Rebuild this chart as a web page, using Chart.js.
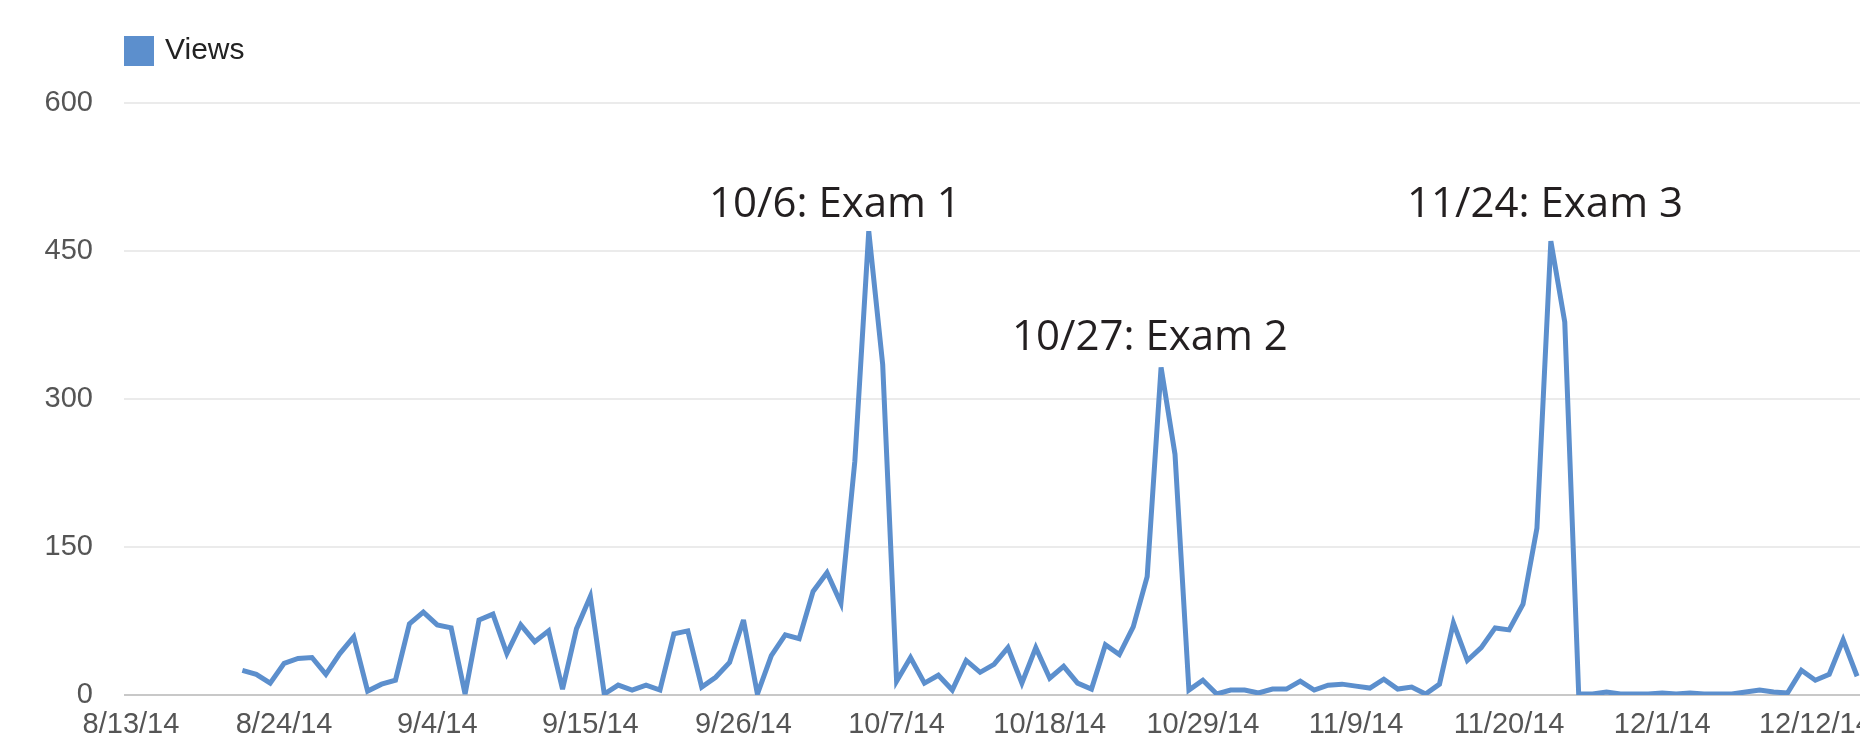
<!DOCTYPE html>
<html>
<head>
<meta charset="utf-8">
<script src="https://cdn.jsdelivr.net/npm/chart.js@4/dist/chart.umd.min.js"></script>
<style>
  html, body { margin: 0; padding: 0; background: #ffffff; overflow: hidden; }
  #wrap { position: absolute; left: 0; top: 0; width: 1960px; height: 747px; }
</style>
</head>
<body>
<div id="wrap"><canvas id="c" width="1960" height="747"></canvas></div>
<script>
// ---- data ----
const seriesName = 'Views';
const dates = [
  '8/21','8/22','8/23','8/24','8/25','8/26','8/27','8/28','8/29','8/30','8/31',
  '9/1','9/2','9/3','9/4','9/5','9/6','9/7','9/8','9/9','9/10','9/11','9/12','9/13','9/14','9/15',
  '9/16','9/17','9/18','9/19','9/20','9/21','9/22','9/23','9/24','9/25','9/26','9/27','9/28','9/29','9/30',
  '10/1','10/2','10/3','10/4','10/5','10/6','10/7','10/8','10/9','10/10','10/11','10/12','10/13','10/14','10/15',
  '10/16','10/17','10/18','10/19','10/20','10/21','10/22','10/23','10/24','10/25','10/26','10/27','10/28','10/29','10/30','10/31',
  '11/1','11/2','11/3','11/4','11/5','11/6','11/7','11/8','11/9','11/10','11/11','11/12','11/13','11/14','11/15',
  '11/16','11/17','11/18','11/19','11/20','11/21','11/22','11/23','11/24','11/25','11/26','11/27','11/28','11/29','11/30',
  '12/1','12/2','12/3','12/4','12/5','12/6','12/7','12/8','12/9','12/10','12/11','12/12','12/13','12/14','12/15'
];
const views = [
  25, 21, 12, 32, 37, 38, 21, 42, 59, 4, 11,
  15, 72, 84, 71, 68, 1, 76, 82, 42, 71, 54, 65, 6, 67, 100,
  1, 10, 5, 10, 5, 62, 65, 8, 18, 33, 76, 1, 40, 61, 57,
  105, 124, 93, 237, 470, 335, 14, 38, 12, 20, 5, 35, 23, 31, 48,
  12, 48, 17, 29, 12, 6, 51, 41, 69, 120, 332, 244, 5, 15, 1, 5,
  5, 2, 6, 6, 14, 5, 10, 11, 9, 7, 16, 6, 8, 1, 11,
  73, 35, 48, 68, 66, 92, 169, 460, 378, 1, 1, 3, 1, 1, 1,
  2, 1, 2, 1, 1, 1, 3, 5, 3, 2, 25, 15, 21, 56, 19
];
const xTickLabels = ['8/13/14','8/24/14','9/4/14','9/15/14','9/26/14','10/7/14','10/18/14','10/29/14','11/9/14','11/20/14','12/1/14','12/12/14'];
const yTicks = [0, 150, 300, 450, 600];
const examTexts = ['10/6: Exam 1', '10/27: Exam 2', '11/24: Exam 3'];

// ---- helpers ----
const YEAR = 2014;
const origin = new Date(YEAR, 7, 13);
function dayOf(label) {
  const p = label.split('/').map(Number);
  const d = new Date(YEAR, p[0] - 1, p[1]);
  return Math.round((d - origin) / 86400000);
}
const points = dates.map((d, i) => ({ x: dayOf(d), y: views[i] }));
const tickDays = xTickLabels.map(dayOf);

const BLUE = '#5c8fcd';
const TICK_FONT = { family: "'Liberation Sans', Arial, Helvetica, sans-serif", size: 29 };

// legend: extra gap below it, and horizontal placement over the plot's left edge
const legendPlace = {
  id: 'legendPlace',
  beforeInit(chart) {
    const lg = chart.legend;
    if (lg && !lg._gapPatched) {
      const orig = lg.fit;
      lg.fit = function () { orig.call(this); this.height += 27; };
      lg._gapPatched = true;
    }
  },
  afterLayout(chart) {
    const lg = chart.legend;
    if (lg) { lg.left += 92; }
  },
  beforeDatasetsDraw(chart) {
    chart.ctx.miterLimit = 4;
  }
};

const examLabels = {
  id: 'examLabels',
  afterDatasetsDraw(chart, args, opts) {
    const { ctx } = chart;
    const xs = chart.scales.x, ys = chart.scales.y;
    ctx.save();
    ctx.font = opts.font;
    ctx.fillStyle = opts.color;
    ctx.textAlign = 'center';
    ctx.textBaseline = 'alphabetic';
    opts.items.forEach(it => {
      ctx.fillText(it.text, xs.getPixelForValue(it.x), ys.getPixelForValue(it.y));
    });
    ctx.restore();
  }
};

function build() {
  new Chart(document.getElementById('c'), {
    type: 'line',
    data: {
      datasets: [{
        label: seriesName,
        data: points,
        borderColor: BLUE,
        backgroundColor: BLUE,
        borderWidth: 5,
        pointRadius: 0,
        pointHoverRadius: 0,
        tension: 0,
        fill: false,
        borderJoinStyle: 'miter'
      }]
    },
    options: {
      responsive: false,
      animation: false,
      devicePixelRatio: 1,
      layout: { padding: { left: 0, right: 10, top: 0, bottom: 0 } },
      plugins: {
        tooltip: { enabled: false },
        legend: {
          display: true,
          position: 'top',
          align: 'start',
          labels: {
            padding: 36,
            boxWidth: 22,
            boxHeight: 22,
            color: '#222222',
            font: { family: "'Liberation Sans', Arial, Helvetica, sans-serif", size: 30 },
            generateLabels(chart) {
              const items = Chart.defaults.plugins.legend.labels.generateLabels(chart);
              return items.map(it => Object.assign(it, { lineWidth: 8, strokeStyle: BLUE, fillStyle: BLUE, lineJoin: 'miter' }));
            }
          }
        },
        examLabels: {
          font: "42px 'Open Sans', 'Noto Sans', sans-serif",
          color: '#231f20',
          items: [
            { text: examTexts[0], x: 50.57, y: 484.5 },
            { text: examTexts[1], x: 73.2, y: 349.7 },
            { text: examTexts[2], x: 101.58, y: 484.5 }
          ]
        }
      },
      scales: {
        x: {
          type: 'linear',
          min: -0.503,
          max: 130.675,
          grid: { display: false, drawTicks: false },
          border: { display: false },
          afterBuildTicks(scale) { scale.ticks = tickDays.map(v => ({ value: v })); },
          afterFit(scale) { scale.height = 52; },
          ticks: {
            autoSkip: false,
            maxRotation: 0,
            minRotation: 0,
            padding: 13,
            color: '#555555',
            font: TICK_FONT,
            callback(value) {
              const i = tickDays.indexOf(value);
              return i >= 0 ? xTickLabels[i] : '';
            }
          }
        },
        y: {
          type: 'linear',
          min: yTicks[0],
          max: yTicks[yTicks.length - 1],
          afterBuildTicks(scale) { scale.ticks = yTicks.map(v => ({ value: v })); },
          afterFit(scale) { scale.width = 124; },
          border: { display: false },
          grid: {
            drawTicks: false,
            lineWidth: 2,
            color(ctx) { return ctx.tick && ctx.tick.value === 0 ? '#c8c8c8' : '#ebebeb'; }
          },
          ticks: {
            padding: 31,
            color: '#555555',
            font: TICK_FONT
          }
        }
      }
    },
    plugins: [legendPlace, examLabels]
  });
}

const fontLoads = document.fonts ? Promise.all([
  document.fonts.load("42px 'Open Sans'"),
  document.fonts.load("29px 'Liberation Sans'")
]) : Promise.resolve();
fontLoads.then(build, build);
</script>
</body>
</html>
